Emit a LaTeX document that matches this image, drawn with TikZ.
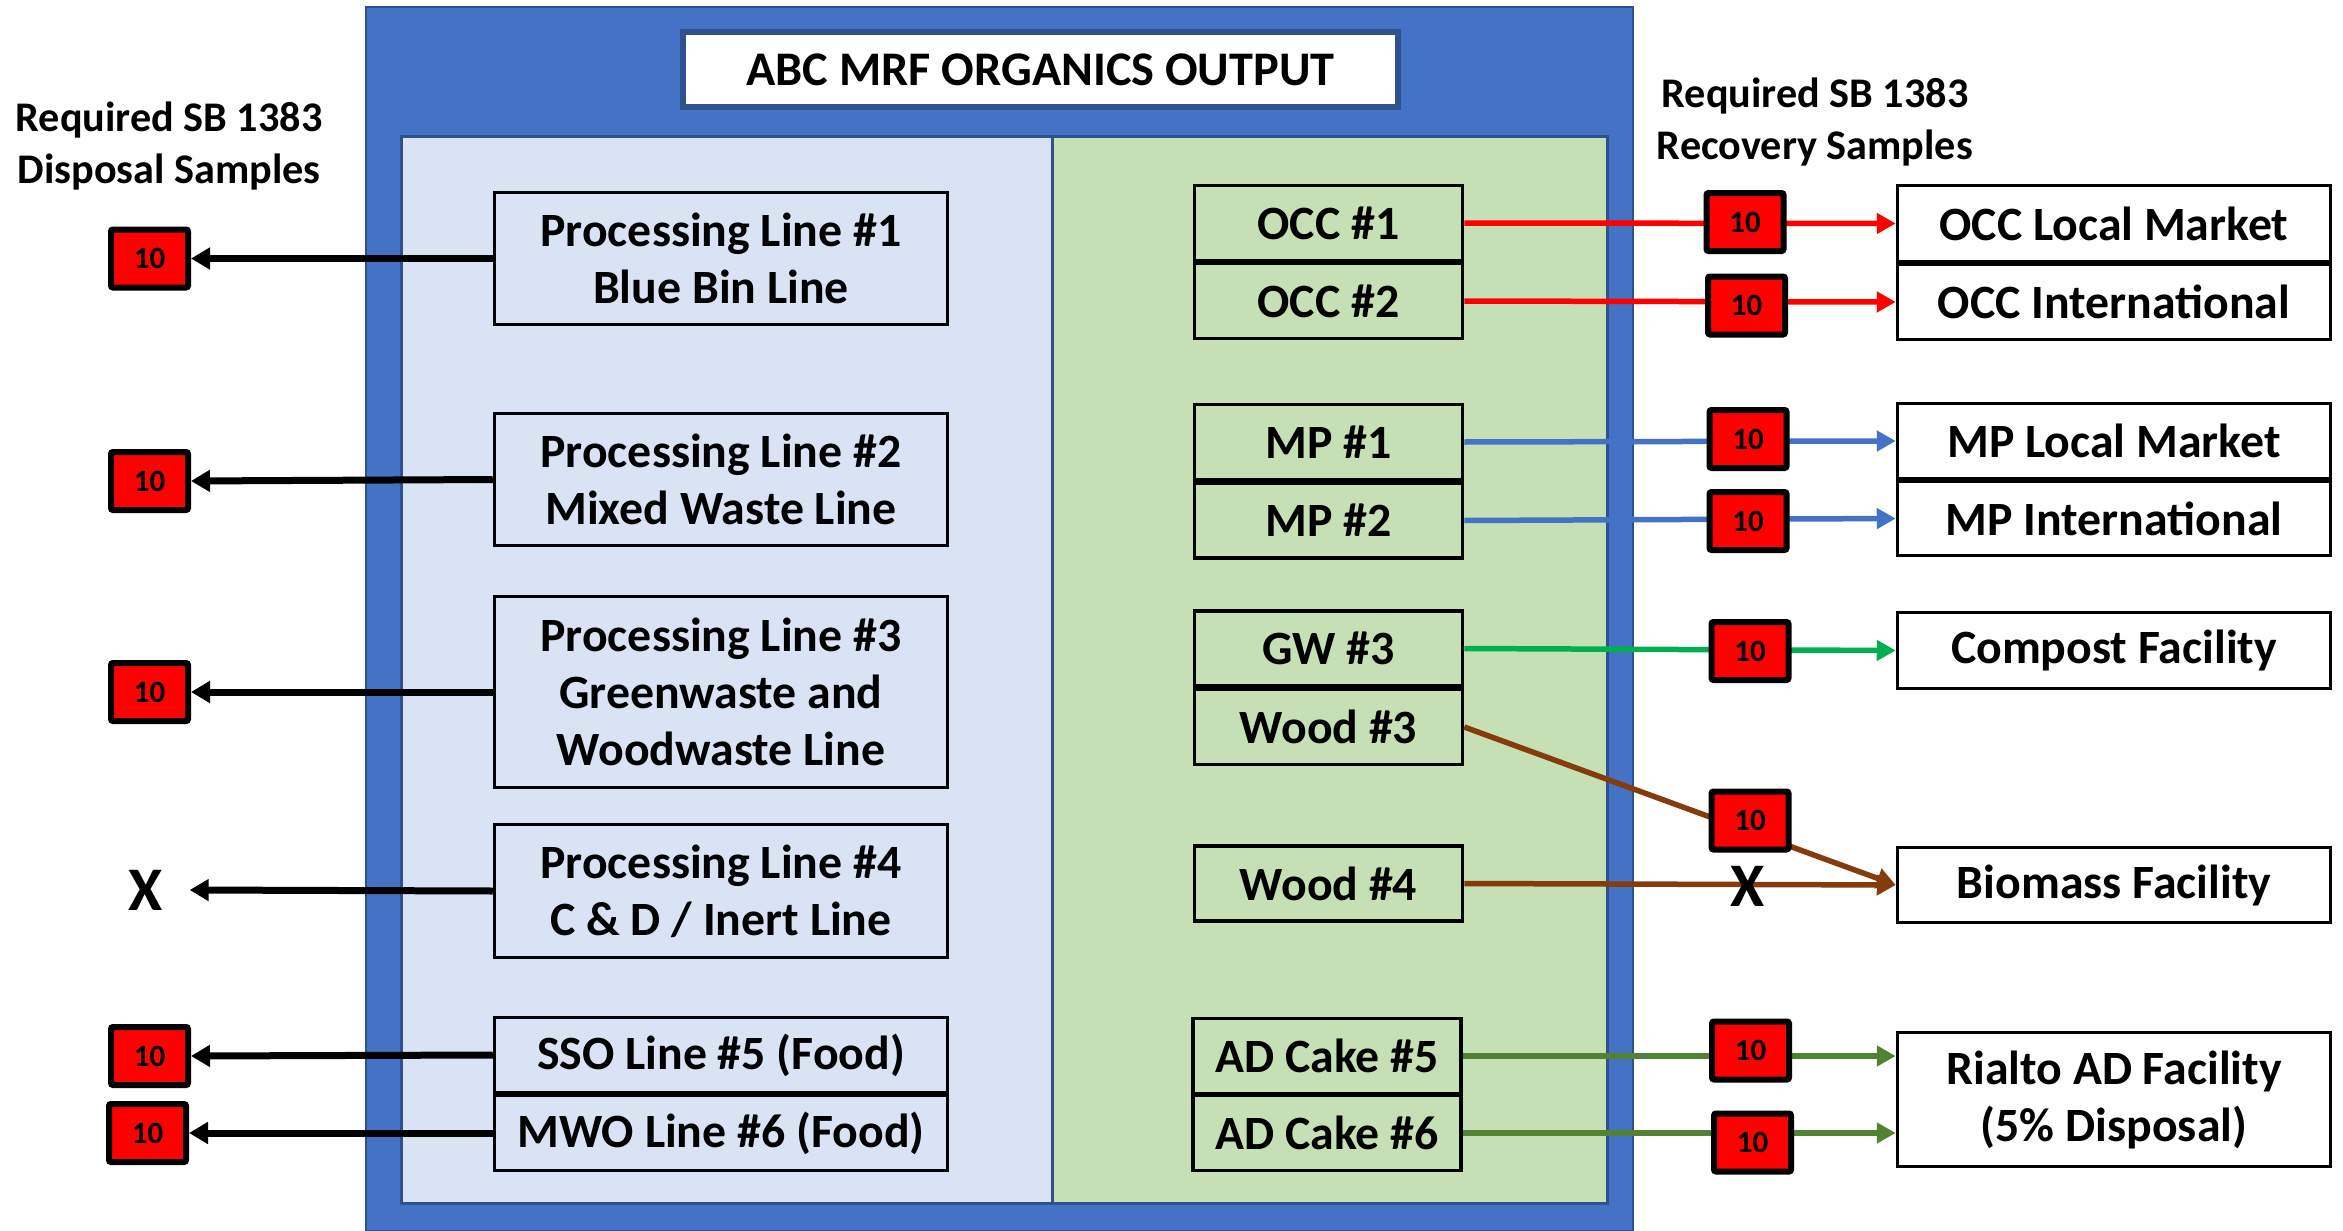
\documentclass[tikz,border=0pt]{standalone}
\usepackage{fontspec}
\setmainfont{Carlito}
\usetikzlibrary{arrows.meta}
\definecolor{outerblue}{HTML}{4472C4}
\definecolor{edgeblue}{HTML}{2F528F}
\definecolor{lightpanel}{HTML}{DAE3F3}
\definecolor{greenpanel}{HTML}{C5E0B4}
\definecolor{redline}{HTML}{FF0000}
\definecolor{mpblue}{HTML}{4472C4}
\definecolor{gwgreen}{HTML}{00B050}
\definecolor{woodbrown}{HTML}{843C0C}
\definecolor{adgreen}{HTML}{548235}
\begin{document}
\begin{tikzpicture}[x=1pt,y=-1pt,
  txt/.style={font=\fontsize{47.8}{57}\selectfont\bfseries, align=center, inner sep=0pt},
  linebox/.style={txt, draw=black, line width=3.5pt, fill=lightpanel, minimum width=453pt},
  greenbox/.style={txt, draw=black, line width=3.5pt, fill=greenpanel, minimum width=268pt, minimum height=75pt},
  destbox/.style={txt, draw=black, line width=3.5pt, fill=white, minimum width=433pt},
  sample/.style={draw=black, fill=red, line width=6pt, rounded corners=2pt, minimum width=77pt, minimum height=58pt, inner sep=0pt, font=\fontsize{31}{36}\selectfont\bfseries},
  nomark/.style={font=\fontsize{62}{70}\selectfont\bfseries, inner sep=0pt, minimum width=83pt},
  hdr/.style={font=\fontsize{42.2}{52}\selectfont\bfseries, align=center, inner sep=0pt},
  blackarrow/.style={draw=black, line width=7pt, -{Triangle[length=19pt,width=21pt]}},
  flow/.style={line width=5.5pt, -{Triangle[length=19pt,width=20pt]}}
]
\useasboundingbox (0,0) rectangle (2343,1231);
% panels
\draw[fill=outerblue, draw=edgeblue, line width=2pt] (366,7) rectangle (1633,1231);
\draw[fill=lightpanel, draw=edgeblue, line width=3pt] (401,136) rectangle (1052,1203);
\draw[fill=greenpanel, draw=edgeblue, line width=3pt] (1052,136) rectangle (1607,1203);
\node[txt, draw=edgeblue, line width=6pt, fill=white, minimum width=715pt, minimum height=74pt, font=\fontsize{48.3}{58}\selectfont\bfseries] (title) at (1040.5,69.5) {ABC MRF ORGANICS OUTPUT};

% headers
\node[hdr] (lhdr) at (169,146) {Required SB 1383\\Disposal Samples};
\node[hdr] (rhdr) at (1815,122) {Required SB 1383\\Recovery Samples};

% processing lines
\node[linebox, minimum height=132pt] (pl1) at (721,258.5) {Processing Line \#1\\Blue Bin Line};
\node[linebox, minimum height=132pt] (pl2) at (721,479.5) {Processing Line \#2\\Mixed Waste Line};
\node[linebox, minimum height=191pt] (pl3) at (721,692) {Processing Line \#3\\Greenwaste and\\Woodwaste Line};
\node[linebox, minimum height=133pt] (pl4) at (721,891) {Processing Line \#4\\C \& D / Inert Line};
\node[linebox, minimum height=75pt] (sso) at (721,1055) {SSO Line \#5 (Food)};
\node[linebox, minimum height=75pt] (mwo) at (721,1133) {MWO Line \#6 (Food)};

% disposal samples
\node[sample] (d1) at (149.5,258.5) {10};
\node[sample] (d2) at (149.5,481) {10};
\node[sample] (d3) at (149.5,692) {10};
\node[nomark] (d4) at (146,890) {X};
\node[sample] (d5) at (149.5,1056) {10};
\node[sample] (d6) at (147.5,1133) {10};

\draw[blackarrow] (pl1.west) -- (d1.east);
\draw[blackarrow] (pl2.west) -- (d2.east);
\draw[blackarrow] (pl3.west) -- (d3.east);
\draw[blackarrow] (pl4.west) -- ([xshift=2pt]d4.east);
\draw[blackarrow] (sso.west) -- (d5.east);
\draw[blackarrow] (mwo.west) -- (d6.east);

% outputs
\node[greenbox] (occ1) at (1328.5,223) {OCC \#1};
\node[greenbox] (occ2) at (1328.5,301) {OCC \#2};
\node[greenbox] (mp1) at (1328.5,442) {MP \#1};
\node[greenbox] (mp2) at (1328.5,520.5) {MP \#2};
\node[greenbox] (gw3) at (1328.5,648.5) {GW \#3};
\node[greenbox] (wood3) at (1328.5,727) {Wood \#3};
\node[greenbox] (wood4) at (1328.5,883.5) {Wood \#4};
\node[greenbox] (ad5) at (1327,1056) {AD Cake \#5};
\node[greenbox] (ad6) at (1327,1133) {AD Cake \#6};

% destinations
\node[destbox, minimum height=76pt] (occlm) at (2114,223.5) {OCC Local Market};
\node[destbox, minimum height=75pt] (occi) at (2114,302) {OCC International};
\node[destbox, minimum height=75pt] (mplm) at (2114,441) {MP Local Market};
\node[destbox, minimum height=74pt] (mpi) at (2114,518.5) {MP International};
\node[destbox, minimum height=76pt] (compost) at (2114,650.5) {Compost Facility};
\node[destbox, minimum height=75pt] (biomass) at (2114,885) {Biomass Facility};
\node[destbox, minimum height=134pt] (rialto) at (2114,1099.5) {Rialto AD Facility\\(5\% Disposal)};

% flows
\draw[flow, redline] (occ1.east) -- (occlm.west);
\draw[flow, redline] (occ2.east) -- (occi.west);
\draw[flow, mpblue] (mp1.east) -- (mplm.west);
\draw[flow, mpblue] (mp2.east) -- (mpi.west);
\draw[flow, gwgreen] (gw3.east) -- (compost.west);
\draw[flow, woodbrown] (wood3.east) -- (biomass.west);
\draw[flow, woodbrown] (wood4.east) -- (biomass.west);
\draw[flow, adgreen] (ad5.east) -- (ad5.east -| rialto.west);
\draw[flow, adgreen] (ad6.east) -- (ad6.east -| rialto.west);

% recovery samples
\node[sample] (r1) at (1745,222) {10};
\node[sample] (r2) at (1746.5,305.5) {10};
\node[sample] (r3) at (1748,439) {10};
\node[sample] (r4) at (1748,521) {10};
\node[sample] (r5) at (1750,651) {10};
\node[sample] (r6) at (1750,820.5) {10};
\node[nomark] (r7) at (1748,886) {X};
\node[sample] (r8) at (1750.5,1050.5) {10};
\node[sample] (r9) at (1752.5,1142.5) {10};
\end{tikzpicture}
\end{document}
